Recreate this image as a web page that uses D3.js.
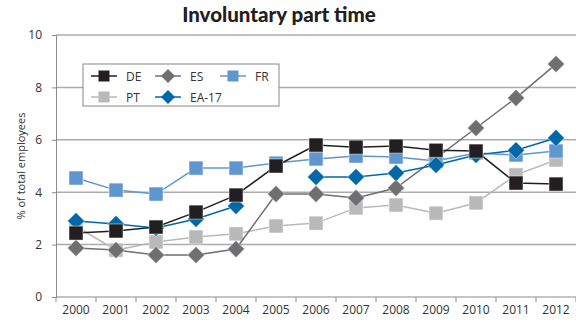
<!DOCTYPE html>
<html><head><meta charset="utf-8">
<script src="https://cdn.jsdelivr.net/npm/d3@7"></script>
<style>body{margin:0;background:#fff}svg{display:block}text{font-family:"Open Sans",sans-serif}</style>
</head><body><svg id="c" width="576" height="323"></svg>
<script>
const years = ["2000","2001","2002","2003","2004","2005","2006","2007","2008","2009","2010","2011","2012"];
const yTicks = [0,2,4,6,8,10];
const DE = [2.44,2.52,2.67,3.24,3.89,5.0,5.8,5.72,5.76,5.6,5.57,4.35,4.31];
const ES = [1.87,1.79,1.6,1.6,1.83,3.93,3.93,3.78,4.16,5.3,6.45,7.6,8.89];
const FR = [4.54,4.08,3.93,4.92,4.92,5.11,5.27,5.38,5.34,5.19,5.5,5.42,5.57];
const PT = [2.7,1.79,2.1,2.29,2.41,2.71,2.82,3.4,3.51,3.2,3.59,4.66,5.23];
const EA17 = [2.9,2.79,2.63,2.98,3.47,null,4.58,4.58,4.73,5.04,5.42,5.6,6.07];

const series = [
  {name:"PT", values:PT, color:"#b9b9b9", shape:"square"},
  {name:"ES", values:ES, color:"#6f6f71", shape:"diamond"},
  {name:"FR", values:FR, color:"#6096cf", shape:"square"},
  {name:"EA-17", values:EA17, color:"#0068a9", shape:"diamond"},
  {name:"DE", values:DE, color:"#231f20", shape:"square"}
];
const legendOrder = [["DE",0,0],["ES",1,0],["FR",2,0],["PT",0,1],["EA-17",1,1]];

const svg = d3.select("#c");
const L=56, R=576, T=35, B=297;
const x = d3.scaleBand().domain(years).range([L,R]);
const y = d3.scaleLinear().domain([0,10]).range([B,T]);

svg.append("text").attr("x",279).attr("y",22).attr("text-anchor","middle")
  .style("font-family","Lato").style("font-weight","900").style("font-size","20.5px").attr("fill","#231f20")
  .text("Involuntary part time");

// gridlines
svg.append("g").selectAll("line").data(yTicks.filter(d=>d>0)).join("line")
  .attr("x1",L).attr("x2",R).attr("y1",d=>y(d)).attr("y2",d=>y(d))
  .attr("stroke","#ababab").attr("stroke-width",1.5);

// y axis
const ya = svg.append("g").attr("transform",`translate(${L},0)`)
  .call(d3.axisLeft(y).tickValues(yTicks).tickSize(4).tickPadding(10));
ya.select(".domain").attr("stroke","#8a8a8a");
ya.selectAll(".tick line").attr("stroke","#8a8a8a");
ya.selectAll("text").style("font-size","12px").attr("fill","#333");

// x axis
const xa = svg.append("g").attr("transform",`translate(0,${B})`)
  .call(d3.axisBottom(x).tickSize(0).tickPadding(8));
xa.select(".domain").remove();
xa.selectAll("text").style("font-size","12px").attr("fill","#333");
svg.append("line").attr("x1",L).attr("x2",R).attr("y1",B).attr("y2",B).attr("stroke","#8a8a8a").attr("stroke-width",1.2);
svg.append("g").selectAll("line").data(years.concat(["end"])).join("line")
  .attr("x1",(d,i)=>L+i*x.step()).attr("x2",(d,i)=>L+i*x.step())
  .attr("y1",B).attr("y2",B+5).attr("stroke","#8a8a8a");

svg.append("text").attr("transform",`translate(25,${(T+B)/2}) rotate(-90)`)
  .attr("text-anchor","middle").style("font-size","11px").attr("fill","#333").text("% of total employees");

function marker(g, shape, color, cx, cy){
  if(shape==="square"){
    g.append("rect").attr("x",cx-7).attr("y",cy-7).attr("width",14).attr("height",14)
     .attr("fill",color).attr("stroke","#fff").attr("stroke-opacity",0.6).attr("stroke-width",0.8);
  } else {
    const s=8.5;
    g.append("path").attr("d",`M${cx},${cy-s}L${cx+s},${cy}L${cx},${cy+s}L${cx-s},${cy}Z`)
     .attr("fill",color).attr("stroke","#fff").attr("stroke-opacity",0.6).attr("stroke-width",0.8);
  }
}

const line = d3.line().defined(d=>d!=null).x((d,i)=>x(years[i])+x.bandwidth()/2).y(d=>y(d));
series.forEach(s=>{
  const g = svg.append("g");
  g.append("path").datum(s.values).attr("d",line).attr("fill","none").attr("stroke",s.color).attr("stroke-width",1.5);
  s.values.forEach((v,i)=>{ if(v!=null) marker(g,s.shape,s.color,x(years[i])+x.bandwidth()/2,y(v)); });
});

// legend
const lg = svg.append("g");
lg.append("rect").attr("x",83).attr("y",64).attr("width",196).attr("height",42).attr("fill","#fff").attr("stroke","#888").attr("stroke-width",1);
const colX=[104,168,233], rowY=[76,97];
legendOrder.forEach(([n,c,r])=>{
  const s = series.find(d=>d.name===n);
  const cx=colX[c], cy=rowY[r];
  lg.append("line").attr("x1",cx-13).attr("x2",cx+13).attr("y1",cy).attr("y2",cy).attr("stroke",s.color).attr("stroke-width",1.5);
  if(s.shape==="square") lg.append("rect").attr("x",cx-5.5).attr("y",cy-5.5).attr("width",11).attr("height",11).attr("fill",s.color);
  else lg.append("path").attr("d",`M${cx},${cy-7}L${cx+7},${cy}L${cx},${cy+7}L${cx-7},${cy}Z`).attr("fill",s.color);
  lg.append("text").attr("x",cx+22).attr("y",cy+4.5).style("font-size","12px").attr("fill","#333").text(n);
});
</script></body></html>
